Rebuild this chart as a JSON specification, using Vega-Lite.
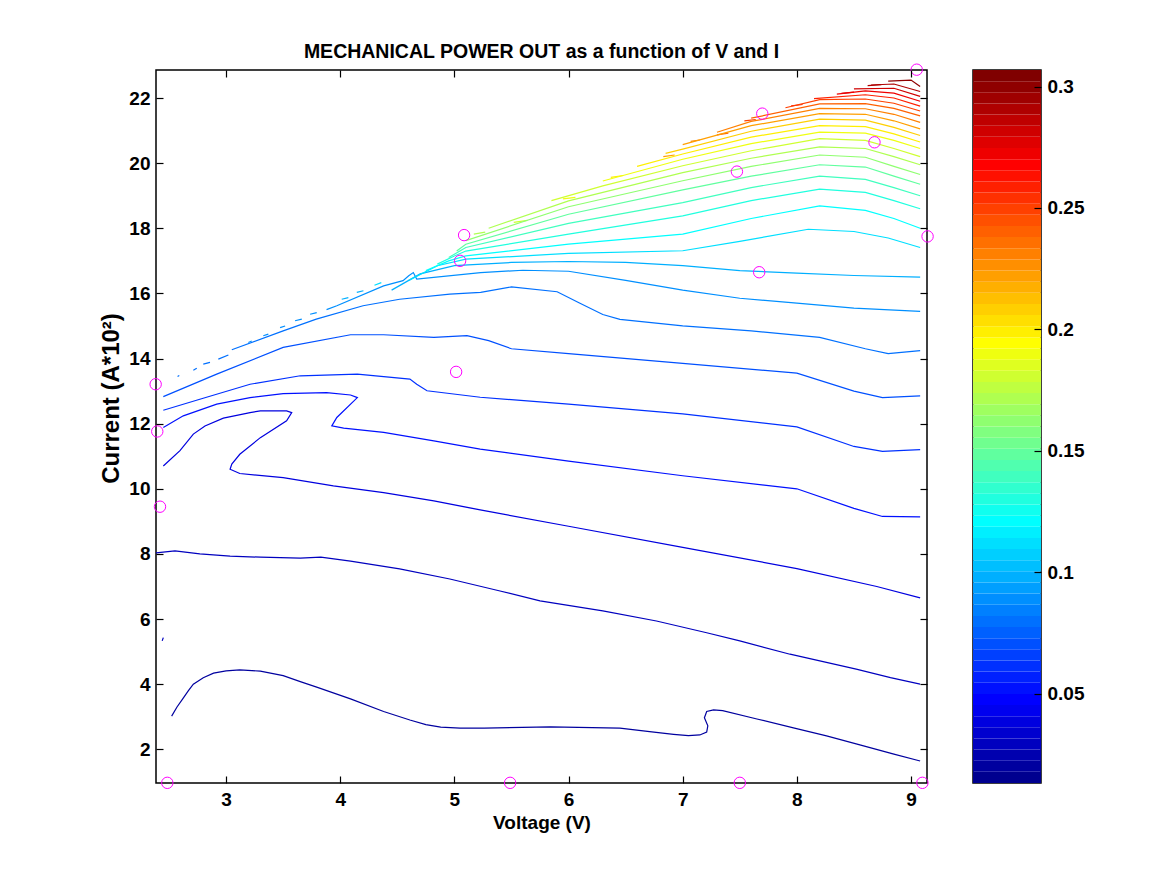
{
"$schema": "https://vega.github.io/schema/vega-lite/v6.json",
"background": "white",
"padding": {"left": 98, "top": 41, "right": 5, "bottom": 5},
"config": {
  "view": {"stroke": "black", "strokeWidth": 1.5},
  "font": "Liberation Sans",
  "axis": {"labelFont": "Liberation Sans", "labelFontSize": 19, "labelFontWeight": "bold", "labelColor": "black",
           "titleFont": "Liberation Sans", "titleFontSize": 19, "titleFontWeight": "bold", "titleColor": "black",
           "ticks": true, "tickColor": "black", "tickOpacity": 1, "tickWidth": 1.2, "tickSize": 7, "offset": -7, "zindex": 1, "domain": false, "grid": false, "labelFlush": false, "labelOverlap": false}
},
"datasets": {
  "lines": [
    {"id":"1","lv":0.02,"v":2.523,"i":3.02},{"id":"1","lv":0.02,"v":2.57,"i":3.3},{"id":"1","lv":0.02,"v":2.62,"i":3.55},{"id":"1","lv":0.02,"v":2.67,"i":3.8},{"id":"1","lv":0.02,"v":2.713,"i":4.0},{"id":"1","lv":0.02,"v":2.8,"i":4.2},{"id":"1","lv":0.02,"v":2.89,"i":4.34},{"id":"1","lv":0.02,"v":3.0,"i":4.41},{"id":"1","lv":0.02,"v":3.12,"i":4.44},{"id":"1","lv":0.02,"v":3.30,"i":4.40},{"id":"1","lv":0.02,"v":3.50,"i":4.26},{"id":"1","lv":0.02,"v":3.65,"i":4.08},{"id":"1","lv":0.02,"v":3.80,"i":3.90},{"id":"1","lv":0.02,"v":4.09,"i":3.55},{"id":"1","lv":0.02,"v":4.38,"i":3.16},{"id":"1","lv":0.02,"v":4.61,"i":2.90},{"id":"1","lv":0.02,"v":4.75,"i":2.76},{"id":"1","lv":0.02,"v":4.88,"i":2.68},{"id":"1","lv":0.02,"v":5.05,"i":2.65},{"id":"1","lv":0.02,"v":5.26,"i":2.65},{"id":"1","lv":0.02,"v":5.84,"i":2.69},{"id":"1","lv":0.02,"v":6.45,"i":2.65},{"id":"1","lv":0.02,"v":6.71,"i":2.54},{"id":"1","lv":0.02,"v":6.92,"i":2.46},{"id":"1","lv":0.02,"v":7.05,"i":2.42},{"id":"1","lv":0.02,"v":7.15,"i":2.44},{"id":"1","lv":0.02,"v":7.21,"i":2.53},{"id":"1","lv":0.02,"v":7.22,"i":2.72},{"id":"1","lv":0.02,"v":7.19,"i":2.97},{"id":"1","lv":0.02,"v":7.21,"i":3.16},{"id":"1","lv":0.02,"v":7.27,"i":3.21},{"id":"1","lv":0.02,"v":7.35,"i":3.19},{"id":"1","lv":0.02,"v":7.65,"i":2.93},{"id":"1","lv":0.02,"v":7.97,"i":2.66},{"id":"1","lv":0.02,"v":8.26,"i":2.41},{"id":"1","lv":0.02,"v":8.56,"i":2.13},{"id":"1","lv":0.02,"v":8.85,"i":1.85},{"id":"1","lv":0.02,"v":9.08,"i":1.64},
    {"id":"s","lv":0.03,"v":2.44,"i":5.33},{"id":"s","lv":0.03,"v":2.45,"i":5.43},
    {"id":"2","lv":0.03,"v":2.386,"i":8.03},{"id":"2","lv":0.03,"v":2.552,"i":8.09},{"id":"2","lv":0.03,"v":2.77,"i":8.0},{"id":"2","lv":0.03,"v":3.035,"i":7.93},{"id":"2","lv":0.03,"v":3.30,"i":7.90},{"id":"2","lv":0.03,"v":3.65,"i":7.87},{"id":"2","lv":0.03,"v":3.83,"i":7.90},{"id":"2","lv":0.03,"v":4.09,"i":7.78},{"id":"2","lv":0.03,"v":4.52,"i":7.54},{"id":"2","lv":0.03,"v":4.96,"i":7.23},{"id":"2","lv":0.03,"v":5.40,"i":6.86},{"id":"2","lv":0.03,"v":5.75,"i":6.56},{"id":"2","lv":0.03,"v":6.3,"i":6.25},{"id":"2","lv":0.03,"v":6.77,"i":5.94},{"id":"2","lv":0.03,"v":7.21,"i":5.58},{"id":"2","lv":0.03,"v":7.50,"i":5.33},{"id":"2","lv":0.03,"v":7.94,"i":4.92},{"id":"2","lv":0.03,"v":8.52,"i":4.46},{"id":"2","lv":0.03,"v":8.82,"i":4.20},{"id":"2","lv":0.03,"v":9.08,"i":4.0},
    {"id":"3","lv":0.04,"v":2.45,"i":10.70},{"id":"3","lv":0.04,"v":2.596,"i":11.17},{"id":"3","lv":0.04,"v":2.713,"i":11.68},{"id":"3","lv":0.04,"v":2.815,"i":11.93},{"id":"3","lv":0.04,"v":2.976,"i":12.17},{"id":"3","lv":0.04,"v":3.21,"i":12.34},{"id":"3","lv":0.04,"v":3.30,"i":12.39},{"id":"3","lv":0.04,"v":3.53,"i":12.39},{"id":"3","lv":0.04,"v":3.575,"i":12.34},{"id":"3","lv":0.04,"v":3.53,"i":12.09},{"id":"3","lv":0.04,"v":3.30,"i":11.57},{"id":"3","lv":0.04,"v":3.12,"i":11.06},{"id":"3","lv":0.04,"v":3.05,"i":10.76},{"id":"3","lv":0.04,"v":3.035,"i":10.60},{"id":"3","lv":0.04,"v":3.12,"i":10.47},{"id":"3","lv":0.04,"v":3.50,"i":10.34},{"id":"3","lv":0.04,"v":3.94,"i":10.09},{"id":"3","lv":0.04,"v":4.38,"i":9.88},{"id":"3","lv":0.04,"v":4.82,"i":9.63},{"id":"3","lv":0.04,"v":5.226,"i":9.35},{"id":"3","lv":0.04,"v":6.0,"i":8.85},{"id":"3","lv":0.04,"v":7.0,"i":8.2},{"id":"3","lv":0.04,"v":8.0,"i":7.55},{"id":"3","lv":0.04,"v":8.7,"i":7.0},{"id":"3","lv":0.04,"v":9.08,"i":6.65},
    {"id":"4","lv":0.05,"v":2.45,"i":11.88},{"id":"4","lv":0.05,"v":2.625,"i":12.24},{"id":"4","lv":0.05,"v":2.918,"i":12.60},{"id":"4","lv":0.05,"v":3.21,"i":12.80},{"id":"4","lv":0.05,"v":3.50,"i":12.92},{"id":"4","lv":0.05,"v":3.88,"i":12.95},{"id":"4","lv":0.05,"v":4.09,"i":12.88},{"id":"4","lv":0.05,"v":4.15,"i":12.80},{"id":"4","lv":0.05,"v":3.97,"i":12.19},{"id":"4","lv":0.05,"v":3.926,"i":11.93},{"id":"4","lv":0.05,"v":4.03,"i":11.86},{"id":"4","lv":0.05,"v":4.38,"i":11.73},{"id":"4","lv":0.05,"v":4.82,"i":11.47},{"id":"4","lv":0.05,"v":5.226,"i":11.22},{"id":"4","lv":0.05,"v":6.0,"i":10.85},{"id":"4","lv":0.05,"v":7.0,"i":10.4},{"id":"4","lv":0.05,"v":8.0,"i":10.0},{"id":"4","lv":0.05,"v":8.5,"i":9.4},{"id":"4","lv":0.05,"v":8.75,"i":9.15},{"id":"4","lv":0.05,"v":9.08,"i":9.14},
    {"id":"5","lv":0.06,"v":2.45,"i":12.41},{"id":"5","lv":0.06,"v":2.77,"i":12.75},{"id":"5","lv":0.06,"v":3.21,"i":13.21},{"id":"5","lv":0.06,"v":3.65,"i":13.47},{"id":"5","lv":0.06,"v":4.15,"i":13.52},{"id":"5","lv":0.06,"v":4.61,"i":13.37},{"id":"5","lv":0.06,"v":4.67,"i":13.21},{"id":"5","lv":0.06,"v":4.76,"i":13.01},{"id":"5","lv":0.06,"v":5.226,"i":12.81},{"id":"5","lv":0.06,"v":6.0,"i":12.6},{"id":"5","lv":0.06,"v":7.0,"i":12.3},{"id":"5","lv":0.06,"v":8.0,"i":11.9},{"id":"5","lv":0.06,"v":8.5,"i":11.3},{"id":"5","lv":0.06,"v":8.75,"i":11.15},{"id":"5","lv":0.06,"v":9.08,"i":11.2},
    {"id":"6","lv":0.07,"v":2.45,"i":12.83},{"id":"6","lv":0.07,"v":2.918,"i":13.52},{"id":"6","lv":0.07,"v":3.50,"i":14.34},{"id":"6","lv":0.07,"v":4.09,"i":14.73},{"id":"6","lv":0.07,"v":4.38,"i":14.73},{"id":"6","lv":0.07,"v":4.82,"i":14.65},{"id":"6","lv":0.07,"v":5.11,"i":14.70},{"id":"6","lv":0.07,"v":5.3,"i":14.55},{"id":"6","lv":0.07,"v":5.5,"i":14.3},{"id":"6","lv":0.07,"v":6.0,"i":14.15},{"id":"6","lv":0.07,"v":7.0,"i":13.85},{"id":"6","lv":0.07,"v":8.0,"i":13.55},{"id":"6","lv":0.07,"v":8.5,"i":13.0},{"id":"6","lv":0.07,"v":8.75,"i":12.8},{"id":"6","lv":0.07,"v":9.08,"i":12.85},
    {"id":"7","lv":0.08,"v":3.05,"i":14.27},{"id":"7","lv":0.08,"v":3.50,"i":14.85},{"id":"7","lv":0.08,"v":3.79,"i":15.21},{"id":"7","lv":0.08,"v":4.20,"i":15.62},{"id":"7","lv":0.08,"v":4.52,"i":15.82},{"id":"7","lv":0.08,"v":4.96,"i":15.98},{"id":"7","lv":0.08,"v":5.23,"i":16.03},{"id":"7","lv":0.08,"v":5.5,"i":16.2},{"id":"7","lv":0.08,"v":5.9,"i":16.05},{"id":"7","lv":0.08,"v":6.1,"i":15.7},{"id":"7","lv":0.08,"v":6.3,"i":15.35},{"id":"7","lv":0.08,"v":6.45,"i":15.2},{"id":"7","lv":0.08,"v":7.0,"i":15.0},{"id":"7","lv":0.08,"v":7.6,"i":14.85},{"id":"7","lv":0.08,"v":8.2,"i":14.65},{"id":"7","lv":0.08,"v":8.6,"i":14.3},{"id":"7","lv":0.08,"v":8.8,"i":14.15},{"id":"7","lv":0.08,"v":9.08,"i":14.24},
    {"id":"d1","lv":0.08,"v":2.575,"i":13.45},{"id":"d1","lv":0.08,"v":2.59,"i":13.48},
    {"id":"d2","lv":0.08,"v":2.713,"i":13.64},{"id":"d2","lv":0.08,"v":2.743,"i":13.70},
    {"id":"d3","lv":0.08,"v":2.80,"i":13.83},{"id":"d3","lv":0.08,"v":2.859,"i":13.88},
    {"id":"d4","lv":0.08,"v":2.932,"i":13.98},{"id":"d4","lv":0.08,"v":3.02,"i":14.11},
    {"id":"d5","lv":0.09,"v":3.195,"i":14.49},{"id":"d5","lv":0.09,"v":3.225,"i":14.54},
    {"id":"d6","lv":0.09,"v":3.326,"i":14.70},{"id":"d6","lv":0.09,"v":3.37,"i":14.75},
    {"id":"d7","lv":0.09,"v":3.473,"i":14.95},{"id":"d7","lv":0.09,"v":3.517,"i":15.00},
    {"id":"d8","lv":0.09,"v":3.604,"i":15.16},{"id":"d8","lv":0.09,"v":3.663,"i":15.21},
    {"id":"d9","lv":0.09,"v":3.736,"i":15.36},{"id":"d9","lv":0.09,"v":3.794,"i":15.41},
    {"id":"d10","lv":0.10,"v":4.013,"i":15.82},{"id":"d10","lv":0.10,"v":4.071,"i":15.87},
    {"id":"d11","lv":0.10,"v":4.145,"i":16.03},{"id":"d11","lv":0.10,"v":4.203,"i":16.08},
    {"id":"d12","lv":0.11,"v":4.30,"i":16.25},{"id":"d12","lv":0.11,"v":4.36,"i":16.33},
    {"id":"u1","lv":0.17,"v":5.17,"i":17.82},{"id":"u1","lv":0.17,"v":5.27,"i":17.88},
    {"id":"u2","lv":0.18,"v":5.52,"i":18.18},{"id":"u2","lv":0.18,"v":5.64,"i":18.24},
    {"id":"u3","lv":0.19,"v":5.95,"i":18.90},{"id":"u3","lv":0.19,"v":6.06,"i":18.95},
    {"id":"u4","lv":0.20,"v":6.37,"i":19.56},{"id":"u4","lv":0.20,"v":6.48,"i":19.62},
    {"id":"u5","lv":0.22,"v":6.83,"i":20.20},{"id":"u5","lv":0.22,"v":6.93,"i":20.25},
    {"id":"u6","lv":0.23,"v":7.07,"i":20.67},{"id":"u6","lv":0.23,"v":7.15,"i":20.71},
    {"id":"u7","lv":0.24,"v":7.30,"i":20.87},{"id":"u7","lv":0.24,"v":7.40,"i":20.92},
    {"id":"u8","lv":0.25,"v":7.54,"i":21.30},{"id":"u8","lv":0.25,"v":7.64,"i":21.34},
    {"id":"u9","lv":0.26,"v":7.95,"i":21.76},{"id":"u9","lv":0.26,"v":8.05,"i":21.80},
    {"id":"u10","lv":0.28,"v":8.39,"i":22.14},{"id":"u10","lv":0.28,"v":8.50,"i":22.18},
    {"id":"u11","lv":0.29,"v":8.62,"i":22.38},{"id":"u11","lv":0.29,"v":8.74,"i":22.41},
    {"id":"8","lv":0.09,"v":3.88,"i":15.5},{"id":"8","lv":0.09,"v":3.97,"i":15.62},{"id":"8","lv":0.09,"v":4.38,"i":16.23},{"id":"8","lv":0.09,"v":4.55,"i":16.39},{"id":"8","lv":0.09,"v":4.60,"i":16.54},{"id":"8","lv":0.09,"v":4.64,"i":16.64},{"id":"8","lv":0.09,"v":4.67,"i":16.44},{"id":"8","lv":0.09,"v":5.23,"i":16.64},{"id":"8","lv":0.09,"v":5.6,"i":16.71},{"id":"8","lv":0.09,"v":6.0,"i":16.68},{"id":"8","lv":0.09,"v":6.5,"i":16.4},{"id":"8","lv":0.09,"v":7.0,"i":16.1},{"id":"8","lv":0.09,"v":7.5,"i":15.85},{"id":"8","lv":0.09,"v":8.0,"i":15.7},{"id":"8","lv":0.09,"v":8.5,"i":15.55},{"id":"8","lv":0.09,"v":9.08,"i":15.45},
    {"id":"9","lv":0.10,"v":4.45,"i":16.1},{"id":"9","lv":0.10,"v":4.7,"i":16.6},{"id":"9","lv":0.10,"v":5.0,"i":16.85},{"id":"9","lv":0.10,"v":5.5,"i":16.95},{"id":"9","lv":0.10,"v":6.0,"i":16.98},{"id":"9","lv":0.10,"v":6.5,"i":16.95},{"id":"9","lv":0.10,"v":7.0,"i":16.85},{"id":"9","lv":0.10,"v":7.5,"i":16.7},{"id":"9","lv":0.10,"v":8.0,"i":16.62},{"id":"9","lv":0.10,"v":8.5,"i":16.55},{"id":"9","lv":0.10,"v":9.08,"i":16.5},
    {"id":"10","lv":0.11,"v":4.6,"i":16.4},{"id":"10","lv":0.11,"v":4.85,"i":16.85},{"id":"10","lv":0.11,"v":5.1,"i":17.05},{"id":"10","lv":0.11,"v":6.0,"i":17.23},{"id":"10","lv":0.11,"v":7.0,"i":17.31},{"id":"10","lv":0.11,"v":7.5,"i":17.6},{"id":"10","lv":0.11,"v":8.1,"i":17.97},{"id":"10","lv":0.11,"v":8.5,"i":17.9},{"id":"10","lv":0.11,"v":8.8,"i":17.7},{"id":"10","lv":0.11,"v":9.08,"i":17.41},
    {"id":"11","lv":0.12,"v":4.75,"i":16.7},{"id":"11","lv":0.12,"v":4.95,"i":17.0},{"id":"11","lv":0.12,"v":5.1,"i":17.15},{"id":"11","lv":0.12,"v":6.0,"i":17.51},{"id":"11","lv":0.12,"v":7.0,"i":17.82},{"id":"11","lv":0.12,"v":7.6,"i":18.3},{"id":"11","lv":0.12,"v":8.2,"i":18.69},{"id":"11","lv":0.12,"v":8.6,"i":18.55},{"id":"11","lv":0.12,"v":8.85,"i":18.3},{"id":"11","lv":0.12,"v":9.08,"i":18.0},
    {"id":"12","lv":0.13,"v":4.85,"i":16.9},{"id":"12","lv":0.13,"v":5.0,"i":17.15},{"id":"12","lv":0.13,"v":5.1,"i":17.3},{"id":"12","lv":0.13,"v":6.0,"i":17.82},{"id":"12","lv":0.13,"v":7.0,"i":18.38},{"id":"12","lv":0.13,"v":7.6,"i":18.85},{"id":"12","lv":0.13,"v":8.2,"i":19.2},{"id":"12","lv":0.13,"v":8.6,"i":19.1},{"id":"12","lv":0.13,"v":8.85,"i":18.85},{"id":"12","lv":0.13,"v":9.08,"i":18.6},
    {"id":"13","lv":0.14,"v":4.95,"i":17.1},{"id":"13","lv":0.14,"v":5.1,"i":17.41},{"id":"13","lv":0.14,"v":6.0,"i":18.15},{"id":"13","lv":0.14,"v":7.0,"i":18.79},{"id":"13","lv":0.14,"v":7.6,"i":19.25},{"id":"13","lv":0.14,"v":8.2,"i":19.6},{"id":"13","lv":0.14,"v":8.6,"i":19.5},{"id":"13","lv":0.14,"v":8.85,"i":19.25},{"id":"13","lv":0.14,"v":9.08,"i":19.0},
    {"id":"14","lv":0.15,"v":5.02,"i":17.3},{"id":"14","lv":0.15,"v":5.1,"i":17.51},{"id":"14","lv":0.15,"v":6.0,"i":18.43},{"id":"14","lv":0.15,"v":7.0,"i":19.18},{"id":"14","lv":0.15,"v":7.6,"i":19.6},{"id":"14","lv":0.15,"v":8.2,"i":19.95},{"id":"14","lv":0.15,"v":8.6,"i":19.88},{"id":"14","lv":0.15,"v":8.85,"i":19.6},{"id":"14","lv":0.15,"v":9.08,"i":19.35},
    {"id":"15","lv":0.16,"v":5.1,"i":17.62},{"id":"15","lv":0.16,"v":6.0,"i":18.66},{"id":"15","lv":0.16,"v":7.0,"i":19.46},{"id":"15","lv":0.16,"v":7.6,"i":19.9},{"id":"15","lv":0.16,"v":8.2,"i":20.25},{"id":"15","lv":0.16,"v":8.6,"i":20.18},{"id":"15","lv":0.16,"v":8.85,"i":19.9},{"id":"15","lv":0.16,"v":9.08,"i":19.65},
    {"id":"16","lv":0.17,"v":5.3,"i":18.0},{"id":"16","lv":0.17,"v":6.0,"i":18.84},{"id":"16","lv":0.17,"v":7.0,"i":19.71},{"id":"16","lv":0.17,"v":7.6,"i":20.15},{"id":"16","lv":0.17,"v":8.2,"i":20.5},{"id":"16","lv":0.17,"v":8.6,"i":20.45},{"id":"16","lv":0.17,"v":8.85,"i":20.2},{"id":"16","lv":0.17,"v":9.08,"i":19.95},
    {"id":"17","lv":0.18,"v":5.85,"i":18.85},{"id":"17","lv":0.18,"v":6.3,"i":19.3},{"id":"17","lv":0.18,"v":7.0,"i":19.92},{"id":"17","lv":0.18,"v":7.6,"i":20.38},{"id":"17","lv":0.18,"v":8.2,"i":20.75},{"id":"17","lv":0.18,"v":8.6,"i":20.7},{"id":"17","lv":0.18,"v":8.85,"i":20.45},{"id":"17","lv":0.18,"v":9.08,"i":20.2},
    {"id":"18","lv":0.19,"v":6.3,"i":19.45},{"id":"18","lv":0.19,"v":7.0,"i":20.12},{"id":"18","lv":0.19,"v":7.6,"i":20.6},{"id":"18","lv":0.19,"v":8.2,"i":20.95},{"id":"18","lv":0.19,"v":8.6,"i":20.92},{"id":"18","lv":0.19,"v":8.85,"i":20.7},{"id":"18","lv":0.19,"v":9.08,"i":20.45},
    {"id":"19","lv":0.20,"v":6.6,"i":19.9},{"id":"19","lv":0.20,"v":7.0,"i":20.28},{"id":"19","lv":0.20,"v":7.6,"i":20.8},{"id":"19","lv":0.20,"v":8.2,"i":21.15},{"id":"19","lv":0.20,"v":8.6,"i":21.12},{"id":"19","lv":0.20,"v":8.85,"i":20.9},{"id":"19","lv":0.20,"v":9.08,"i":20.65},
    {"id":"20","lv":0.21,"v":6.85,"i":20.3},{"id":"20","lv":0.21,"v":7.0,"i":20.43},{"id":"20","lv":0.21,"v":7.6,"i":20.98},{"id":"20","lv":0.21,"v":8.2,"i":21.35},{"id":"20","lv":0.21,"v":8.6,"i":21.32},{"id":"20","lv":0.21,"v":8.85,"i":21.1},{"id":"20","lv":0.21,"v":9.08,"i":20.85},
    {"id":"21","lv":0.22,"v":7.0,"i":20.57},{"id":"21","lv":0.22,"v":7.6,"i":21.15},{"id":"21","lv":0.22,"v":8.2,"i":21.52},{"id":"21","lv":0.22,"v":8.6,"i":21.5},{"id":"21","lv":0.22,"v":8.85,"i":21.3},{"id":"21","lv":0.22,"v":9.08,"i":21.05},
    {"id":"22","lv":0.23,"v":7.3,"i":20.95},{"id":"22","lv":0.23,"v":7.6,"i":21.28},{"id":"22","lv":0.23,"v":8.2,"i":21.68},{"id":"22","lv":0.23,"v":8.6,"i":21.67},{"id":"22","lv":0.23,"v":8.85,"i":21.5},{"id":"22","lv":0.23,"v":9.08,"i":21.25},
    {"id":"23","lv":0.24,"v":7.6,"i":21.38},{"id":"23","lv":0.24,"v":8.2,"i":21.82},{"id":"23","lv":0.24,"v":8.6,"i":21.83},{"id":"23","lv":0.24,"v":8.85,"i":21.68},{"id":"23","lv":0.24,"v":9.08,"i":21.45},
    {"id":"24","lv":0.25,"v":7.9,"i":21.7},{"id":"24","lv":0.25,"v":8.2,"i":21.95},{"id":"24","lv":0.25,"v":8.6,"i":21.97},{"id":"24","lv":0.25,"v":8.85,"i":21.84},{"id":"24","lv":0.25,"v":9.08,"i":21.6},
    {"id":"25","lv":0.26,"v":8.15,"i":21.98},{"id":"25","lv":0.26,"v":8.6,"i":22.1},{"id":"25","lv":0.26,"v":8.85,"i":22.0},{"id":"25","lv":0.26,"v":9.08,"i":21.75},
    {"id":"26","lv":0.27,"v":8.35,"i":22.12},{"id":"26","lv":0.27,"v":8.6,"i":22.22},{"id":"26","lv":0.27,"v":8.85,"i":22.15},{"id":"26","lv":0.27,"v":9.08,"i":21.9},
    {"id":"27","lv":0.28,"v":8.5,"i":22.28},{"id":"27","lv":0.28,"v":8.85,"i":22.3},{"id":"27","lv":0.28,"v":9.08,"i":22.05},
    {"id":"28","lv":0.29,"v":8.65,"i":22.4},{"id":"28","lv":0.29,"v":8.85,"i":22.43},{"id":"28","lv":0.29,"v":9.08,"i":22.2},
    {"id":"29","lv":0.30,"v":8.8,"i":22.52},{"id":"29","lv":0.30,"v":9.0,"i":22.55},{"id":"29","lv":0.30,"v":9.08,"i":22.35}
  ],
  "pts": [
    {"v":2.485,"i":0.97},{"v":5.488,"i":0.97},{"v":7.50,"i":0.97},{"v":9.10,"i":0.97},
    {"v":2.383,"i":13.21},{"v":2.397,"i":11.76},{"v":2.421,"i":9.45},{"v":5.015,"i":13.59},
    {"v":5.085,"i":17.79},{"v":5.05,"i":17.0},{"v":7.475,"i":19.74},{"v":7.697,"i":21.52},
    {"v":7.67,"i":16.65},{"v":8.68,"i":20.64},{"v":9.05,"i":22.87},{"v":9.145,"i":17.75}
  ],
  "bands": [
    {"lo":0.0132,"hi":0.01779},{"lo":0.01779,"hi":0.02238},{"lo":0.02238,"hi":0.02696},{"lo":0.02696,"hi":0.03155},{"lo":0.03155,"hi":0.03614},{"lo":0.03614,"hi":0.04073},{"lo":0.04073,"hi":0.04531},{"lo":0.04531,"hi":0.0499},
    {"lo":0.0499,"hi":0.05449},{"lo":0.05449,"hi":0.05908},{"lo":0.05908,"hi":0.06366},{"lo":0.06366,"hi":0.06825},{"lo":0.06825,"hi":0.07284},{"lo":0.07284,"hi":0.07743},{"lo":0.07743,"hi":0.08201},{"lo":0.08201,"hi":0.0866},
    {"lo":0.0866,"hi":0.09119},{"lo":0.09119,"hi":0.09578},{"lo":0.09578,"hi":0.10036},{"lo":0.10036,"hi":0.10495},{"lo":0.10495,"hi":0.10954},{"lo":0.10954,"hi":0.11413},{"lo":0.11413,"hi":0.11871},{"lo":0.11871,"hi":0.1233},
    {"lo":0.1233,"hi":0.12789},{"lo":0.12789,"hi":0.13248},{"lo":0.13248,"hi":0.13706},{"lo":0.13706,"hi":0.14165},{"lo":0.14165,"hi":0.14624},{"lo":0.14624,"hi":0.15083},{"lo":0.15083,"hi":0.15541},{"lo":0.15541,"hi":0.16},
    {"lo":0.16,"hi":0.16459},{"lo":0.16459,"hi":0.16918},{"lo":0.16918,"hi":0.17376},{"lo":0.17376,"hi":0.17835},{"lo":0.17835,"hi":0.18294},{"lo":0.18294,"hi":0.18753},{"lo":0.18753,"hi":0.19211},{"lo":0.19211,"hi":0.1967},
    {"lo":0.1967,"hi":0.20129},{"lo":0.20129,"hi":0.20588},{"lo":0.20588,"hi":0.21046},{"lo":0.21046,"hi":0.21505},{"lo":0.21505,"hi":0.21964},{"lo":0.21964,"hi":0.22423},{"lo":0.22423,"hi":0.22881},{"lo":0.22881,"hi":0.2334},
    {"lo":0.2334,"hi":0.23799},{"lo":0.23799,"hi":0.24258},{"lo":0.24258,"hi":0.24716},{"lo":0.24716,"hi":0.25175},{"lo":0.25175,"hi":0.25634},{"lo":0.25634,"hi":0.26093},{"lo":0.26093,"hi":0.26551},{"lo":0.26551,"hi":0.2701},
    {"lo":0.2701,"hi":0.27469},{"lo":0.27469,"hi":0.27928},{"lo":0.27928,"hi":0.28386},{"lo":0.28386,"hi":0.28845},{"lo":0.28845,"hi":0.29304},{"lo":0.29304,"hi":0.29763},{"lo":0.29763,"hi":0.30221},{"lo":0.30221,"hi":0.3068}
  ]
},
"bounds": "flush",
"spacing": 46,
"hconcat": [
  {
    "width": 771, "height": 713,
    "title": {"text": "MECHANICAL POWER OUT as a function of V and I", "fontSize": 19.5, "fontWeight": "bold", "font": "Liberation Sans", "color": "black", "baseline": "alphabetic", "offset": 12, "dy": 28},
    "layer": [
      {
        "data": {"name": "lines"},
        "transform": [{"window": [{"op": "row_number", "as": "o"}]}],
        "mark": {"type": "line", "strokeWidth": 1.2, "clip": true},
        "encoding": {
          "x": {"field": "v", "type": "quantitative", "scale": {"domain": [2.386, 9.14], "nice": false, "zero": false},
                "axis": {"orient": "bottom", "values": [3,4,5,6,7,8,9], "title": "Voltage (V)", "ticks": true, "tickSize": 7, "zindex": 1, "labelPadding": 7, "minExtent": 28, "maxExtent": 28, "titlePadding": 9}},
          "y": {"field": "i", "type": "quantitative", "scale": {"domain": [0.965, 22.86], "nice": false, "zero": false},
                "axis": {"orient": "left", "values": [2,4,6,8,10,12,14,16,18,20,22], "title": "Current (A*10²)", "ticks": true, "tickSize": 7, "zindex": 1, "titleFontSize": 24, "titleY": 328, "labelPadding": 6, "minExtent": 30, "maxExtent": 30, "titlePadding": 10}},
          "detail": {"field": "id"},
          "order": {"field": "o"},
          "color": {"field": "lv", "type": "quantitative", "legend": null,
                    "scale": {"type": "quantize", "domain": [0.0131, 0.3067], "range": ["#00008F","#00009F","#0000AF","#0000BF","#0000CF","#0000DF","#0000EF","#0000FF","#0010FF","#0020FF","#0030FF","#0040FF","#0050FF","#0060FF","#0070FF","#0080FF","#008FFF","#009FFF","#00AFFF","#00BFFF","#00CFFF","#00DFFF","#00EFFF","#00FFFF","#10FFEF","#20FFDF","#30FFCF","#40FFBF","#50FFAF","#60FF9F","#70FF8F","#80FF80","#8FFF70","#9FFF60","#AFFF50","#BFFF40","#CFFF30","#DFFF20","#EFFF10","#FFFF00","#FFEF00","#FFDF00","#FFCF00","#FFBF00","#FFAF00","#FF9F00","#FF8F00","#FF8000","#FF7000","#FF6000","#FF5000","#FF4000","#FF3000","#FF2000","#FF1000","#FF0000","#EF0000","#DF0000","#CF0000","#BF0000","#AF0000","#9F0000","#8F0000","#800000"]}}
        }
      },
      {
        "data": {"name": "pts"},
        "mark": {"type": "point", "shape": "circle", "filled": false, "size": 130, "stroke": "#FF00FF", "strokeWidth": 1, "opacity": 1, "clip": false},
        "encoding": {
          "x": {"field": "v", "type": "quantitative", "axis": {"orient": "top", "values": [3,4,5,6,7,8,9], "ticks": true, "tickSize": 7, "zindex": 1, "labels": false, "title": null, "minExtent": 0, "maxExtent": 0}},
          "y": {"field": "i", "type": "quantitative", "axis": {"orient": "right", "values": [2,4,6,8,10,12,14,16,18,20,22], "ticks": true, "tickSize": 7, "zindex": 1, "labels": false, "title": null, "minExtent": 0, "maxExtent": 0}}
        }
      }
    ],
    "resolve": {"axis": {"x": "independent", "y": "independent"}}
  },
  {
    "width": 68, "height": 713,
    "data": {"name": "bands"},
    "mark": {"type": "rect"},
    "encoding": {
      "y": {"field": "lo", "type": "quantitative", "scale": {"domain": [0.0132, 0.3068], "nice": false, "zero": false},
            "axis": {"orient": "right", "values": [0.05,0.1,0.15,0.2,0.25,0.3], "format": "~g", "title": null, "ticks": true, "tickSize": 7, "zindex": 1, "labelPadding": 6}},
      "y2": {"field": "hi"},
      "color": {"field": "lo", "type": "quantitative", "legend": null,
                "scale": {"type": "quantize", "domain": [0.0131, 0.3067], "range": ["#00008F","#00009F","#0000AF","#0000BF","#0000CF","#0000DF","#0000EF","#0000FF","#0010FF","#0020FF","#0030FF","#0040FF","#0050FF","#0060FF","#0070FF","#0080FF","#008FFF","#009FFF","#00AFFF","#00BFFF","#00CFFF","#00DFFF","#00EFFF","#00FFFF","#10FFEF","#20FFDF","#30FFCF","#40FFBF","#50FFAF","#60FF9F","#70FF8F","#80FF80","#8FFF70","#9FFF60","#AFFF50","#BFFF40","#CFFF30","#DFFF20","#EFFF10","#FFFF00","#FFEF00","#FFDF00","#FFCF00","#FFBF00","#FFAF00","#FF9F00","#FF8F00","#FF8000","#FF7000","#FF6000","#FF5000","#FF4000","#FF3000","#FF2000","#FF1000","#FF0000","#EF0000","#DF0000","#CF0000","#BF0000","#AF0000","#9F0000","#8F0000","#800000"]}}
    }
  }
]
}
